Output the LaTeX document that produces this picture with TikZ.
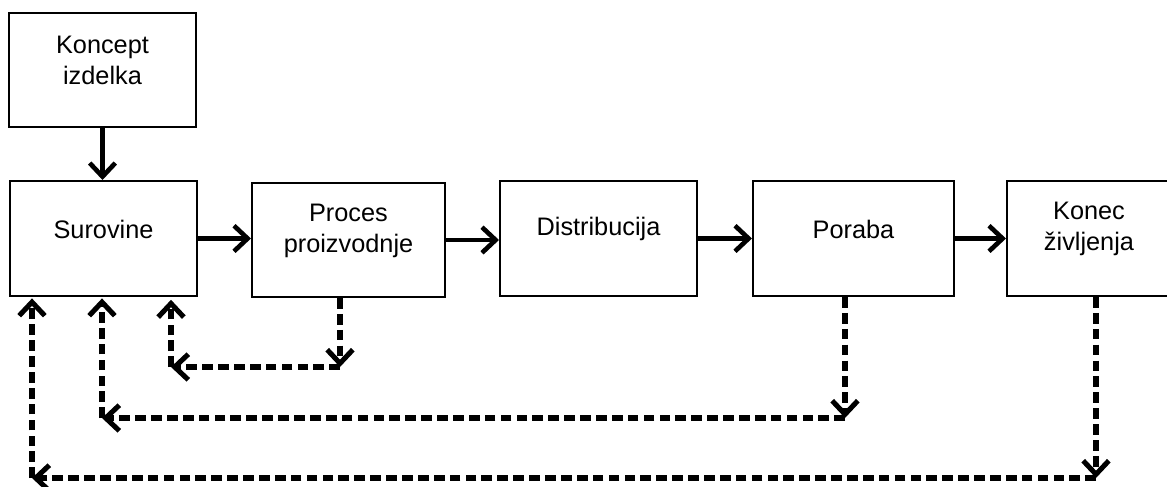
\documentclass[tikz,border=0pt]{standalone}
\usepackage{fontspec}
\setmainfont{Liberation Sans}
\usetikzlibrary{arrows.meta}

\tikzset{
	box/.style={draw,line width=1.4pt,minimum height=2.875cm,inner sep=0pt},
	txt/.style={font=\fontsize{18}{22}\selectfont,align=center,yshift=6.6pt},
	flow/.style={line width=3.3pt,line join=round,-{Straight Barb[length=3.4mm,width=6.4mm]}},
	back/.style={flow,line width=3.6pt,dash pattern=on 7.6pt off 3.7pt},
}

\begin{document}
\begin{tikzpicture}[x=0.025cm,y=-0.025cm]
	\useasboundingbox (0,0) rectangle (1167,487);
	\node[box,minimum width=4.675cm,minimum height=2.85cm,label={[txt]center:Koncept\\izdelka}] at (102.5,70)  (konc) {};
	\node[box,minimum width=4.675cm,label={[txt]center:Surovine}] at (103.5,238.5) (sur) {};
	\node[box,minimum width=4.825cm,minimum height=2.85cm,label={[txt]center:Proces\\proizvodnje}] at (348.5,240) (proc) {};
	\node[box,minimum width=4.925cm,label={[txt]center:Distribucija}] at (598.5,238.5) (dist) {};
	\node[box,minimum width=5.025cm,label={[txt]center:Poraba}] at (853.5,238.5) (por) {};
	\node[box,minimum width=4.1cm,label={[txt]center:Konec\\življenja}] at (1089,238.5) (kon) {};

	% main flow
	\draw[flow] (konc.south) -- (konc.south |- sur.north);
	\draw[flow] (sur.east) -- (sur.east -| proc.west);
	\draw[flow] (proc.east) -- (proc.east -| dist.west);
	\draw[flow] (dist.east) -- (dist.east -| por.west);
	\draw[flow] (por.east) -- (por.east -| kon.west);

	% back to raw materials
	\coordinate (c1) at (340,367);
	\coordinate (d1) at (171,367);
	\coordinate (c2) at (845,418);
	\coordinate (d2) at (102,418);
	\coordinate (c3) at (1096,478);
	\coordinate (d3) at (32,478);
	\draw[back] (proc.south -| c1) -- (c1);
	\draw[back] (c1) -- (d1);
	\draw[back,shorten >=2pt] (d1) -- (sur.south -| d1);
	\draw[back] (por.south -| c2) -- (c2);
	\draw[back] (c2) -- (d2);
	\draw[back,shorten >=1pt] (d2) -- (sur.south -| d2);
	\draw[back] (kon.south -| c3) -- (c3);
	\draw[back] (c3) -- (d3);
	\draw[back,shorten >=1pt] (d3) -- (sur.south -| d3);
\end{tikzpicture}
\end{document}
